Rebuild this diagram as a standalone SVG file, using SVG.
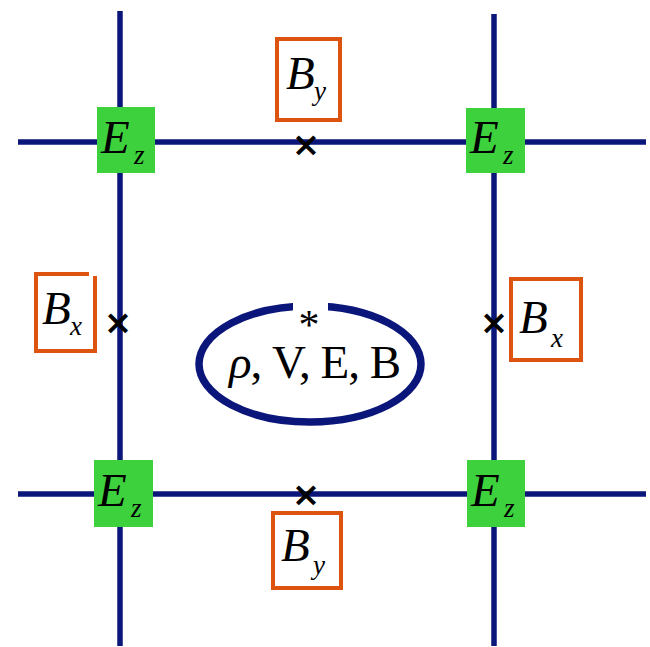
<svg xmlns="http://www.w3.org/2000/svg" width="650" height="647" viewBox="0 0 650 647">
<style>
.grid{stroke:#0b167a;stroke-width:5.5;fill:none}
.ez{fill:#3dd23d}
.bbox{fill:#fff;stroke:#dc5410;stroke-width:4}
.it{font-family:'Liberation Serif','Times New Roman',serif;font-style:italic;fill:#000}
.big{font-size:47px}
.sub{font-size:27px}
.cross{font-family:'DejaVu Sans',sans-serif;font-size:34px;font-weight:bold;fill:#000;text-anchor:middle;dominant-baseline:central}
.rm{font-family:'Liberation Serif','Times New Roman',serif;fill:#000}
</style>
<rect width="650" height="647" fill="#fff"/>
<g id="connectors">
<line class="grid" x1="120" y1="11" x2="120" y2="646"/>
<line class="grid" x1="494" y1="14" x2="494" y2="646"/>
<line class="grid" x1="18" y1="142" x2="646" y2="142"/>
<line class="grid" x1="18" y1="494" x2="646" y2="494"/>
</g>
<g id="ez-tl">
<rect class="ez" x="97" y="107" width="58" height="66"/>
<text class="it big" x="101" y="153">E</text>
<text class="it sub" x="134" y="164">z</text>
</g>
<g id="ez-tr">
<rect class="ez" x="466" y="108" width="59" height="65"/>
<text class="it big" x="470" y="153">E</text>
<text class="it sub" x="503" y="164">z</text>
</g>
<g id="ez-bl">
<rect class="ez" x="94" y="460" width="59" height="67"/>
<text class="it big" x="98" y="506">E</text>
<text class="it sub" x="131" y="517">z</text>
</g>
<g id="ez-br">
<rect class="ez" x="467" y="460" width="58" height="67"/>
<text class="it big" x="471" y="506">E</text>
<text class="it sub" x="504" y="517">z</text>
</g>
<g id="by-top">
<rect class="bbox" x="277" y="39" width="63" height="81"/>
<text class="it big" x="286" y="89">B</text>
<text class="it sub" x="314" y="100">y</text>
<text class="cross" x="306" y="144">×</text>
</g>
<g id="by-bottom">
<rect class="bbox" x="273" y="513" width="68" height="75"/>
<text class="it big" x="281" y="561">B</text>
<text class="it sub" x="313" y="574">y</text>
<text class="cross" x="306" y="494">×</text>
</g>
<g id="bx-left">
<rect class="bbox" x="36" y="274" width="59" height="77"/>
<rect x="89" y="271" width="9" height="5" fill="#fff"/>
<text class="it big" x="42" y="324">B</text>
<text class="it sub" x="70" y="335">x</text>
<text class="cross" x="118" y="322">×</text>
</g>
<g id="bx-right">
<rect class="bbox" x="511" y="279" width="70" height="81"/>
<text class="it big" x="519" y="333">B</text>
<text class="it sub" x="551" y="347">x</text>
<text class="cross" x="494" y="322">×</text>
</g>
<g id="cell-center">
<ellipse cx="310" cy="364" rx="111" ry="58" fill="none" stroke="#0b167a" stroke-width="7.5"/>
<rect x="293" y="298" width="35" height="14" fill="#fff"/>
<text class="rm" x="309" y="339" font-size="42" text-anchor="middle">*</text>
<text class="rm" x="229" y="378" font-size="47" textLength="172" lengthAdjust="spacing"><tspan font-style="italic">ρ</tspan>, V, E, B</text>
</g>
</svg>
